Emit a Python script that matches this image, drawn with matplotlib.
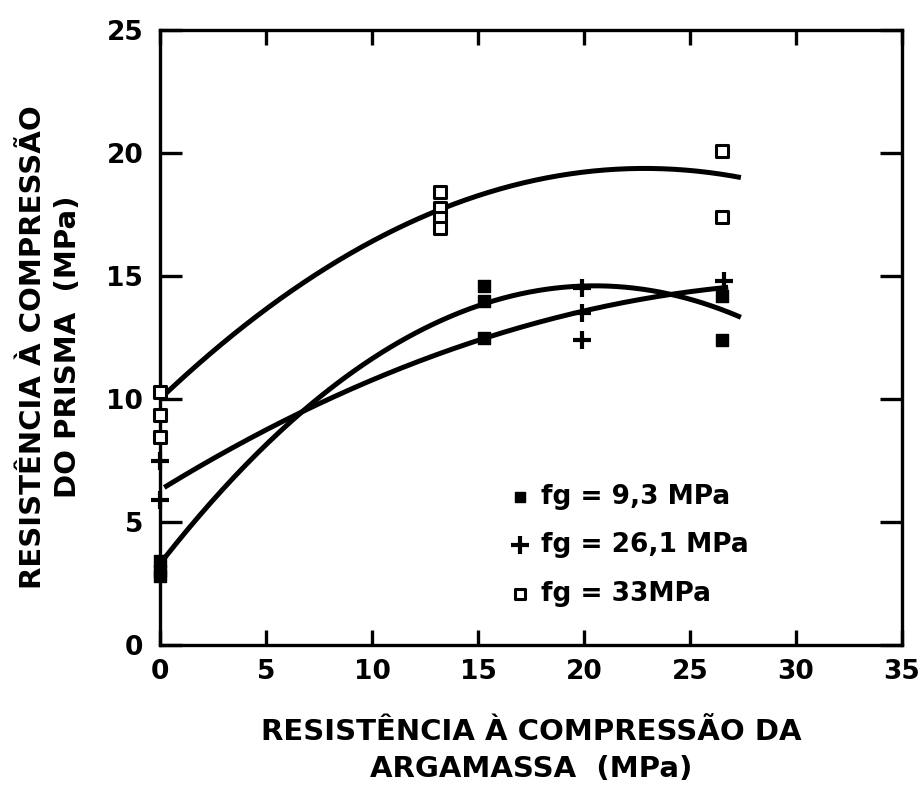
import numpy as np
import matplotlib
matplotlib.use("Agg")
import matplotlib.pyplot as plt

# ---- data ----
fg93_x = [0, 0, 0, 15.3, 15.3, 15.3, 26.5, 26.5]
fg93_y = [3.4, 3.0, 2.8, 14.6, 14.0, 12.5, 14.2, 12.4]

fg261_x = [0, 0, 19.9, 19.9, 19.9, 26.6]
fg261_y = [7.5, 5.9, 14.5, 13.5, 12.4, 14.8]

fg33_x = [0, 0, 0, 13.2, 13.2, 13.2, 13.2, 26.5, 26.5]
fg33_y = [10.3, 9.35, 8.45, 18.4, 17.75, 17.35, 16.95, 20.1, 17.4]

# quadratic trend-line coefficients (a + b x + c x^2) and x-range
fit93 = [3.3, 1.1025, -0.02689]
fit93_range = [0.2, 27.4]
fit261 = [6.3, 0.53, -0.0083]
fit261_range = [0.2, 26.8]
fit33 = [10.0, 0.8201, -0.01794]
fit33_range = [0.2, 27.4]

labels = ["fg = 9,3 MPa", "fg = 26,1 MPa", "fg = 33MPa"]
xticks = [0, 5, 10, 15, 20, 25, 30, 35]
yticks = [0, 5, 10, 15, 20, 25]
xlabel = "RESISTÊNCIA À COMPRESSÃO DA\nARGAMASSA  (MPa)"
ylabel = "RESISTÊNCIA À COMPRESSÃO\nDO PRISMA  (MPa)"

plt.rcParams['font.family'] = ['DejaVu Sans']
plt.rcParams['font.weight'] = 'bold'
fig = plt.figure(figsize=(9.24, 7.94), dpi=100)
ax = fig.add_axes([160/924, 149/794, 742/924, 615/794])


def curve(coef, rng):
    xs = np.linspace(rng[0], rng[1], 200)
    return xs, np.polyval(coef[::-1], xs)


for coef, rng in [(fit33, fit33_range), (fit93, fit93_range), (fit261, fit261_range)]:
    xs, ys = curve(coef, rng)
    ax.plot(xs, ys, color='black', lw=3.6, solid_capstyle='butt', zorder=2)

h1 = ax.scatter(fg93_x, fg93_y, marker='s', s=80, c='black', zorder=3, clip_on=False)
h2 = ax.scatter(fg261_x, fg261_y, marker='+', s=170, c='black', linewidths=3.0, zorder=3, clip_on=False)
h3 = ax.scatter(fg33_x, fg33_y, marker='s', s=70, facecolors='white', edgecolors='black',
                linewidths=2.2, zorder=3, clip_on=False)

leg = ax.legend([h1, h2, h3], labels, loc='lower left', bbox_to_anchor=(0.46, 0.045),
                frameon=False, prop={'size': 19, 'weight': 'bold'}, handlelength=0.6,
                handletextpad=0.5, labelspacing=0.85, borderaxespad=0, scatterpoints=1)
for lh, sz in zip(leg.legend_handles, [50, 150, 45]):
    lh.set_sizes([sz])

ax.set_xlim(0, 35)
ax.set_ylim(0, 25)
ax.set_xticks(xticks)
ax.set_yticks(yticks)
ax.set_xticklabels([str(v) for v in xticks], fontweight='bold')
ax.set_yticklabels([str(v) for v in yticks], fontweight='bold')

for s in ax.spines.values():
    s.set_linewidth(2.4)
ax.tick_params(axis='both', direction='in', width=2.4, labelsize=19,
               top=True, right=True)
ax.tick_params(axis='y', length=16, pad=12)
ax.tick_params(axis='x', length=11, pad=10)

ax.set_xlabel(xlabel, fontsize=21, fontweight='bold', linespacing=1.45)
ax.set_ylabel(ylabel, fontsize=21, fontweight='bold', linespacing=1.3)
ax.xaxis.set_label_coords(0.5, -0.118)
ax.yaxis.set_label_coords(-0.105, 0.485)

fig.savefig("out.png", dpi=100)
